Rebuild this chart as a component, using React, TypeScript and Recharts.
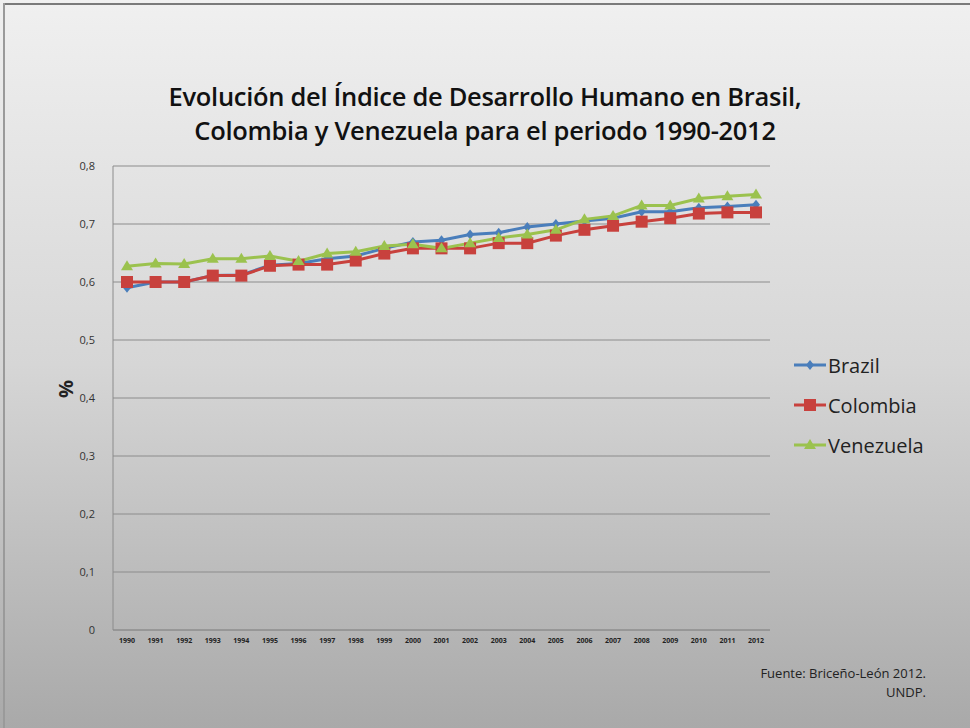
import { LineChart, Line, XAxis, YAxis, CartesianGrid, Legend, Label } from "recharts";

const years = [
  "1990", "1991", "1992", "1993", "1994", "1995", "1996", "1997", "1998", "1999", "2000", "2001",
  "2002", "2003", "2004", "2005", "2006", "2007", "2008", "2009", "2010", "2011", "2012",
];

const brazil = [
  0.59, 0.6, 0.6, 0.611, 0.612, 0.629, 0.632, 0.64, 0.645, 0.658, 0.669, 0.672,
  0.682, 0.685, 0.695, 0.7, 0.705, 0.71, 0.721, 0.721, 0.728, 0.73, 0.733,
];
const colombia = [
  0.6, 0.6, 0.6, 0.611, 0.611, 0.628, 0.63, 0.63, 0.637, 0.649, 0.658, 0.658,
  0.658, 0.667, 0.667, 0.68, 0.69, 0.697, 0.704, 0.71, 0.718, 0.72, 0.72,
];
const venezuela = [
  0.627, 0.632, 0.631, 0.64, 0.64, 0.645, 0.636, 0.649, 0.652, 0.662, 0.665, 0.658,
  0.667, 0.676, 0.682, 0.69, 0.708, 0.714, 0.732, 0.732, 0.744, 0.748, 0.751,
];

const yTicks = [0, 0.1, 0.2, 0.3, 0.4, 0.5, 0.6, 0.7, 0.8];

const data = years.map((year, i) => ({
  year,
  Brazil: brazil[i],
  Colombia: colombia[i],
  Venezuela: venezuela[i],
}));

const BLUE = "#4a7ebb";
const RED = "#c8413d";
const GREEN = "#9bc24e";
const FONT = "'Open Sans', 'Noto Sans', sans-serif";

const Diamond = (props: any) => {
  const { cx, cy } = props;
  if (cx == null || cy == null) return null;
  return <path d={`M${cx},${cy - 5} L${cx + 4},${cy} L${cx},${cy + 5} L${cx - 4},${cy} Z`} fill={BLUE} />;
};

const Square = (props: any) => {
  const { cx, cy } = props;
  if (cx == null || cy == null) return null;
  return <rect x={cx - 6} y={cy - 6} width={12} height={12} fill={RED} />;
};

const Triangle = (props: any) => {
  const { cx, cy } = props;
  if (cx == null || cy == null) return null;
  return <path d={`M${cx},${cy - 6} L${cx + 6},${cy + 4} L${cx - 6},${cy + 4} Z`} fill={GREEN} />;
};

const legendItems = [
  { name: "Brazil", color: BLUE, shape: "diamond" },
  { name: "Colombia", color: RED, shape: "square" },
  { name: "Venezuela", color: GREEN, shape: "triangle" },
];

function LegendContent() {
  return (
    <div style={{ fontFamily: FONT }}>
      {legendItems.map((it) => (
        <div key={it.name} style={{ display: "flex", alignItems: "center", height: 40 }}>
          <svg width={36} height={16}>
            <line x1={2} y1={8} x2={34} y2={8} stroke={it.color} strokeWidth={3} />
            {it.shape === "diamond" && <path d="M18,3 L22,8 L18,13 L14,8 Z" fill={it.color} />}
            {it.shape === "square" && <rect x={12} y={2} width={12} height={12} fill={it.color} />}
            {it.shape === "triangle" && <path d="M18,2 L24,12 L12,12 Z" fill={it.color} />}
          </svg>
          <span style={{ fontSize: 20, color: "#222", marginLeft: 0 }}>{it.name}</span>
        </div>
      ))}
    </div>
  );
}

export default function App() {
  return (
    <div
      style={{
        position: "absolute",
        left: 0,
        top: 0,
        width: 970,
        height: 728,
        background: "linear-gradient(to bottom, #f0f0f0 0%, #d6d6d6 50%, #a9a9a9 100%)",
        overflow: "hidden",
        fontFamily: FONT,
      }}
    >
      <div style={{ position: "absolute", left: 4, top: 3, width: 966, height: 2, background: "#7a7a7a" }} />
      <div style={{ position: "absolute", left: 3, top: 3, width: 2, height: 725, background: "#9a9a9a" }} />
      <div
        style={{
          position: "absolute",
          left: 0,
          top: 79,
          width: 970,
          textAlign: "center",
          fontSize: 25.5,
          fontWeight: 600,
          lineHeight: "34px",
          color: "#111",
          letterSpacing: -0.3,
        }}
      >
        Evolución del Índice de Desarrollo Humano en Brasil,
        <br />
        Colombia y Venezuela para el periodo 1990-2012
      </div>
      <div style={{ position: "absolute", left: 0, top: 0 }}>
        <LineChart width={970} height={728} data={data} margin={{ top: 166, right: 20, bottom: 68, left: 48 }}>
          <CartesianGrid vertical={false} stroke="#8c8c8c" strokeWidth={1} />
          <XAxis
            dataKey="year"
            height={30}
            interval={0}
            padding={{ left: 14, right: 14 }}
            tickLine={false}
            axisLine={{ stroke: "#8c8c8c" }}
            tick={{ fontSize: 7, fill: "#222", fontWeight: 700, fontFamily: FONT }}
          />
          <YAxis
            width={65}
            domain={[0, 0.8]}
            ticks={yTicks}
            tickLine={false}
            axisLine={{ stroke: "#8c8c8c" }}
            tickFormatter={(v: number) => String(v).replace(".", ",")}
            tick={{ fontSize: 11, fill: "#333", fontFamily: FONT }}
            tickMargin={12}
          >
            <Label
              value="%"
              angle={-90}
              position="insideLeft"
              offset={18}
              style={{ fontSize: 20, fontWeight: 700, fill: "#222", fontFamily: FONT }}
            />
          </YAxis>
          <Legend
            layout="vertical"
            verticalAlign="top"
            align="right"
            content={<LegendContent />}
            wrapperStyle={{ left: 792, top: 345, width: 180 }}
          />
          <Line dataKey="Brazil" stroke={BLUE} strokeWidth={3} dot={<Diamond />} activeDot={false} isAnimationActive={false} />
          <Line dataKey="Colombia" stroke={RED} strokeWidth={3} dot={<Square />} activeDot={false} isAnimationActive={false} />
          <Line dataKey="Venezuela" stroke={GREEN} strokeWidth={3} dot={<Triangle />} activeDot={false} isAnimationActive={false} />
        </LineChart>
      </div>
      <div
        style={{
          position: "absolute",
          right: 44,
          top: 664,
          textAlign: "right",
          fontSize: 13,
          lineHeight: "19px",
          color: "#222",
        }}
      >
        Fuente: Briceño-León 2012.
        <br />
        UNDP.
      </div>
    </div>
  );
}
